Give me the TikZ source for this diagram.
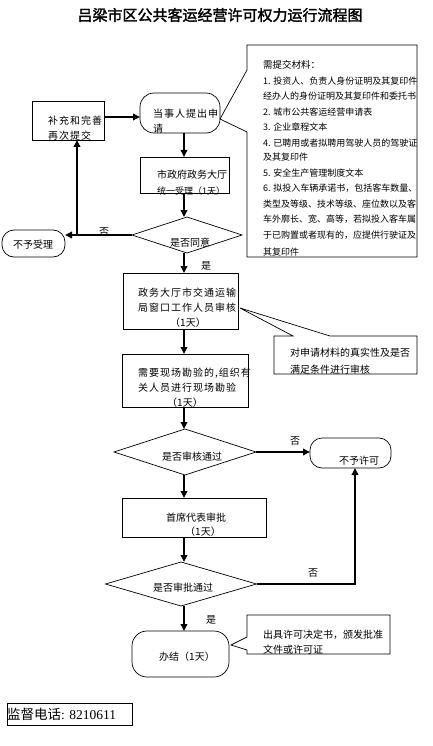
\documentclass[tikz,border=0pt]{standalone}
\usepackage{fontspec}
\setmainfont{Noto Sans CJK SC}
\newfontfamily\cjks[LetterSpace=10]{Noto Sans CJK SC}
\newfontfamily\cjkb[FakeBold=2]{Noto Sans CJK SC}
\newfontfamily\serifnum{Liberation Serif}
\usetikzlibrary{arrows.meta,shapes.geometric}
\tikzset{
  boxline/.style={draw, line width=0.7pt, inner sep=0pt, outer sep=0pt},
  rbox/.style={boxline, rectangle},
  dia/.style={boxline, diamond},
  arr/.style={line width=1.8pt, -{Triangle[length=7pt,width=6.5pt]}},
  lab/.style={inner sep=0pt, font=\fontsize{10}{12}\selectfont},
  labw/.style={lab, anchor=west},
  labs/.style={inner sep=0pt, anchor=west, font=\cjks\fontsize{10}{12}\selectfont},
  mat/.style={inner sep=0pt, anchor=west, font=\fontsize{9}{11}\selectfont},
}
\begin{document}
\begin{tikzpicture}[x=1pt,y=-1pt]
\fill[white] (0,0) rectangle (433,746);
\useasboundingbox (0,0) rectangle (433,746);

% title
\node[inner sep=0pt, font=\cjkb\fontsize{15}{18}\selectfont] (title) at (220,15) {吕梁市区公共客运经营许可权力运行流程图};

% helper coordinates
\coordinate (colx) at (184,0);
\coordinate (c77) at (77,0);
\coordinate (c355) at (355,0);
\coordinate (y117) at (0,117);

% main nodes
\node[rbox, rounded corners=14pt, minimum width=80pt, minimum height=40pt] (ask) at (180,113) {};
\node[rbox, minimum width=72pt, minimum height=39pt] (bu) at (68,120.5) {};
\node[rbox, minimum width=89pt, minimum height=36pt] (acc) at (184.5,175) {};
\node[dia, minimum width=110pt, minimum height=36pt] (d1) at (187,235) {};
\node[rbox, rounded corners=12pt, minimum width=63pt, minimum height=27pt] (rej1) at (33.5,243.5) {};
\node[rbox, minimum width=115pt, minimum height=56pt] (rev) at (180.5,301) {};
\node[rbox, minimum width=126pt, minimum height=53pt] (site) at (185,380.5) {};
\node[dia, minimum width=142pt, minimum height=46pt] (d2) at (185,452) {};
\node[rbox, rounded corners=12pt, minimum width=81pt, minimum height=30pt] (rej2) at (350.5,453) {};
\node[rbox, minimum width=144pt, minimum height=39pt] (chief) at (194,517.5) {};
\node[dia, minimum width=151pt, minimum height=44pt] (d3) at (181,584) {};
\node[rbox, rounded corners=15pt, minimum width=97pt, minimum height=46pt] (done) at (180.5,654) {};
\node[rbox, minimum width=125pt, minimum height=22pt] (tel) at (69.5,714) {};

% callouts
\draw[line width=0.7pt] (247,70) -- (247,45) -- (417,45) -- (417,257) -- (247,257) -- (247,132) -- (ask.east |- 0,119) -- cycle;
\draw[line width=0.7pt] (274,336) -- (293,336) -- (240,308) -- (330,336) -- (417,336) -- (417,374) -- (274,374) -- cycle;
\draw[line width=0.7pt] (247,637) -- (247,615) -- (390,615) -- (390,654) -- (247,654) -- (247,650) -- (231,645) -- cycle;

% texts in boxes
\node[labs] (t-ask1) at (153,114) {当事人提出申};
\node[labs] (t-ask2) at (153,129) {请};
\node[labs] (t-bu1) at (48,121) {补充和完善};
\node[labs] (t-bu2) at (48,136) {再次提交};
\node[labw] (t-acc1) at (157,175) {市政府政务大厅};
\node[labw, font=\fontsize{9}{11}\selectfont] (t-acc2) at (157,191) {统一受理（1天）};
\node[lab] (t-d1) at (190,243) {是否同意};
\node[lab] (t-rej1) at (33,245) {不予受理};
\node[labs] (t-rev1) at (138,293) {政务大厅市交通运输};
\node[labs] (t-rev2) at (138,308) {局窗口工作人员审核};
\node[lab] (t-rev3) at (188,323) {（1天）};
\node[labw] (t-chk1) at (290,353) {对申请材料的真实性及是否};
\node[labw] (t-chk2) at (290,370) {满足条件进行审核};
\node[labs] (t-site1) at (138,373) {需要现场勘验的,组织有};
\node[labs] (t-site2) at (138,388) {关人员进行现场勘验};
\node[lab] (t-site3) at (185,403) {（1天）};
\node[lab] (t-d2) at (192,457) {是否审核通过};
\node[lab] (t-rej2) at (359,461) {不予许可};
\node[lab] (t-chief1) at (196,518) {首席代表审批};
\node[lab] (t-chief2) at (203,532) {（1天）};
\node[lab] (t-d3) at (183,588) {是否审批通过};
\node[lab] (t-done) at (187,657) {办结（1天）};
\node[labw] (t-fin1) at (263,635) {出具许可决定书，颁发批准};
\node[labw] (t-fin2) at (263,650) {文件或许可证};
\node[inner sep=0pt, anchor=west, font=\fontsize{13.5}{15}\selectfont] (t-tel) at (7,714) {监督电话{\serifnum: 8210611}};

% materials text (clipped to box)
\begin{scope}
\clip (247.5,45.5) rectangle (416.5,256.5);
\node[mat, font=\fontsize{9.5}{11}\selectfont] (m0) at (263,65) {需提交材料：};
\node[mat] (m1) at (263,81) {1. 投资人、负责人身份证明及其复印件，};
\node[mat] (m2) at (263,96) {经办人的身份证明及其复印件和委托书};
\node[mat] (m3) at (263,112) {2. 城市公共客运经营申请表};
\node[mat] (m4) at (263,127) {3. 企业章程文本};
\node[mat] (m5) at (263,143) {4. 已聘用或者拟聘用驾驶人员的驾驶证};
\node[mat] (m6) at (263,157) {及其复印件};
\node[mat] (m7) at (263,173) {5. 安全生产管理制度文本};
\node[mat] (m8) at (263,188) {6. 拟投入车辆承诺书，包括客车数量、};
\node[mat] (m9) at (263,204) {类型及等级、技术等级、座位数以及客};
\node[mat] (m10) at (263,219) {车外廓长、宽、高等，若拟投入客车属};
\node[mat] (m11) at (263,235) {于已购置或者现有的，应提供行驶证及};
\node[mat] (m12) at (263,252) {其复印件};
\end{scope}

% connectors
\draw[arr] (bu.east |- y117) -- (ask.west |- y117);
\draw[arr] (colx |- ask.south) -- (colx |- acc.north);
\draw[arr] (colx |- acc.south) -- (colx |- d1.north);
\draw[arr] (d1.west) -- (rej1.east |- d1.west);
\draw[arr] (c77 |- d1.west) -- (c77 |- bu.south);
\draw[arr] (colx |- d1.south) -- (colx |- rev.north);
\draw[arr] (colx |- rev.south) -- (colx |- site.north);
\draw[arr] (colx |- site.south) -- (colx |- d2.north);
\draw[arr] (d2.east) -- (rej2.west |- d2.east);
\draw[arr] (colx |- d2.south) -- (colx |- chief.north);
\draw[arr] (colx |- chief.south) -- (colx |- d3.north);
\draw[arr] (d3.east) -- (c355 |- d3.east) -- (c355 |- rej2.south);
\draw[arr] (colx |- d3.south) -- (colx |- done.north);

% edge labels
\node[lab] (l-no1) at (104,232) {否};
\node[lab] (l-yes1) at (206,266) {是};
\node[lab] (l-no2) at (295,441) {否};
\node[lab] (l-no3) at (313,573) {否};
\node[lab] (l-yes2) at (211,620) {是};
\end{tikzpicture}
\end{document}
